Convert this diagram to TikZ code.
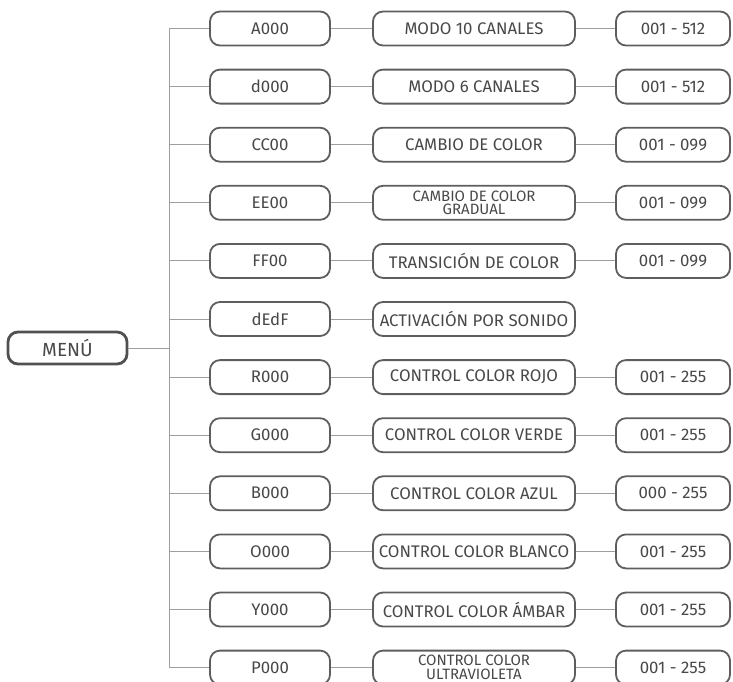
\documentclass[tikz,border=0pt]{standalone}
\usepackage{fontspec}
\setmainfont{Fira Sans}
\begin{document}
\begin{tikzpicture}[x=1pt,y=-1pt,
  box/.style={draw=boxcol, line width=1.8pt, rounded corners=10pt, minimum height=34pt, inner sep=0pt, text=txtcol, font=\fontsize{16.8}{16.8}\selectfont, align=center},
  codebox/.style={box, minimum width=120pt},
  midbox/.style={box, minimum width=202pt},
  rightbox/.style={box, minimum width=114pt},
  twoline/.style={font=\fontsize{15}{13.8}\selectfont},
  conn/.style={draw=conncol, line width=1pt}]
\definecolor{boxcol}{HTML}{5E5E5E}
\definecolor{txtcol}{HTML}{484848}
\definecolor{conncol}{HTML}{9E9E9E}
\useasboundingbox (0,0) rectangle (733,681);
\coordinate (trunk) at (169,0);
\node[codebox] (code1) at (270,28.5) {A000};
\node[codebox] (code2) at (270,86.6) {d000};
\node[codebox] (code3) at (270,144.7) {CC00};
\node[codebox] (code4) at (270,202.8) {EE00};
\node[codebox] (code5) at (270,260.9) {FF00};
\node[codebox] (code6) at (270,319.0) {dEdF};
\node[codebox] (code7) at (270,377.1) {R000};
\node[codebox] (code8) at (270,435.2) {G000};
\node[codebox] (code9) at (270,493.3) {B000};
\node[codebox] (code10) at (270,551.4) {O000};
\node[codebox] (code11) at (270,609.5) {Y000};
\node[codebox] (code12) at (270,667.6) {P000};
\node[midbox] (mid1) at (474,28.5) {MODO 10 CANALES};
\node[midbox] (mid2) at (474,86.6) {MODO 6 CANALES};
\node[midbox] (mid3) at (474,144.7) {CAMBIO DE COLOR};
\node[midbox,twoline] (mid4) at (474,202.8) {CAMBIO DE COLOR\\GRADUAL};
\node[midbox] (mid5) at (474,260.9) {TRANSICIÓN DE COLOR};
\node[midbox] (mid6) at (474,319.0) {ACTIVACIÓN POR SONIDO};
\node[midbox] (mid7) at (474,377.1) {CONTROL COLOR ROJO};
\node[midbox] (mid8) at (474,435.2) {CONTROL COLOR VERDE};
\node[midbox] (mid9) at (474,493.3) {CONTROL COLOR AZUL};
\node[midbox] (mid10) at (474,551.4) {CONTROL COLOR BLANCO};
\node[midbox] (mid11) at (474,609.5) {CONTROL COLOR ÁMBAR};
\node[midbox,twoline] (mid12) at (474,667.6) {CONTROL COLOR\\ULTRAVIOLETA};
\node[rightbox] (right1) at (673,28.5) {001 - 512};
\node[rightbox] (right2) at (673,86.6) {001 - 512};
\node[rightbox] (right3) at (673,144.7) {001 - 099};
\node[rightbox] (right4) at (673,202.8) {001 - 099};
\node[rightbox] (right5) at (673,260.9) {001 - 099};
\node[rightbox] (right7) at (673,377.1) {001 - 255};
\node[rightbox] (right8) at (673,435.2) {001 - 255};
\node[rightbox] (right9) at (673,493.3) {000 - 255};
\node[rightbox] (right10) at (673,551.4) {001 - 255};
\node[rightbox] (right11) at (673,609.5) {001 - 255};
\node[rightbox] (right12) at (673,667.6) {001 - 255};
\node[box, line width=2.8pt, draw=boxcol!85!black, minimum width=119pt, minimum height=32pt, font=\fontsize{19}{19}\selectfont] (menu) at (67.5,348) {MENÚ};
% connectors
\draw[conn] (code1.west -| trunk) -- (code12.west -| trunk);
\draw[conn] (menu.east) -- (menu.east -| trunk);
\foreach \i in {1,...,12}{
  \draw[conn] (code\i.west -| trunk) -- (code\i.west);
  \draw[conn] (code\i.east) -- (mid\i.west);
}
\foreach \i in {1,2,3,4,5,7,8,9,10,11,12}{
  \draw[conn] (mid\i.east) -- (right\i.west);
}
\end{tikzpicture}
\end{document}
